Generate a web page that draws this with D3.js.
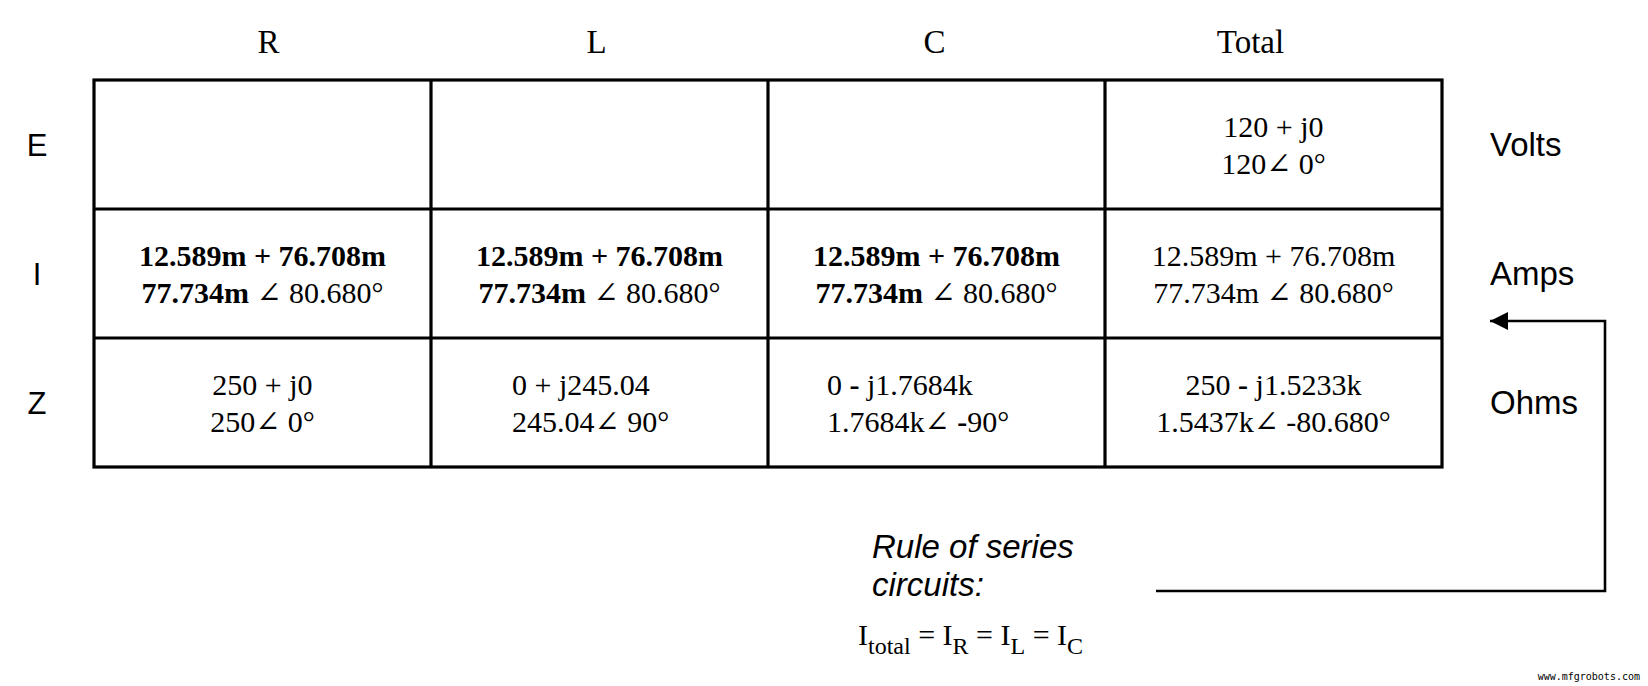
<!DOCTYPE html>
<html>
<head>
<meta charset="utf-8">
<script src="https://cdn.jsdelivr.net/npm/d3@7"></script>
<style>
  body { margin: 0; background: #fff; }
  .serif { font-family: "Liberation Serif", "DejaVu Serif", serif; }
  .sans { font-family: "Liberation Sans", Arial, sans-serif; }
</style>
</head>
<body>
<svg id="chart" width="1648" height="686"></svg>
<script>
// colonnes, lignes et contenu des cellules
const colonnes = ["R", "L", "C", "Total"];
const lignes = ["E", "I", "Z"];
const unites = ["Volts", "Amps", "Ohms"];

// chaque cellule : deux lignes, chaque ligne = liste de [texte, gras]
const cellules = [
  [null, null, null,
   [[["120 + j0", false]], [["120\u2220 0°", false]]]],
  [[[["12.589m + 76.708m", true]], [["77.734m ", true], ["\u2220 80.680°", false]]],
   [[["12.589m + 76.708m", true]], [["77.734m ", true], ["\u2220 80.680°", false]]],
   [[["12.589m + 76.708m", true]], [["77.734m ", true], ["\u2220 80.680°", false]]],
   [[["12.589m + 76.708m", false]], [["77.734m \u2220 80.680°", false]]]],
  [[[["250 + j0", false]], [["250\u2220 0°", false]]],
   [[["0 + j245.04", false]], [["245.04\u2220 90°", false]]],
   [[["0 ", false], ["-", true], [" j1.7684k", false]], [["1.7684k\u2220 ", false], ["-", true], ["90°", false]]],
   [[["250 ", false], ["-", true], [" j1.5233k", false]], [["1.5437k\u2220 -80.680°", false]]]]
];
// décalage à gauche pour certaines cellules (comme dans l'original)
const alignGauche = { "2-1": 81, "2-2": 59 };
// petit décalage des entêtes
const decalEntete = [6, -3, -2, -23];

const svg = d3.select("#chart");
const x = d3.scaleBand().domain(colonnes).range([94, 1442]);
const y = d3.scaleBand().domain(lignes).range([80, 467]);

// grille
const g = svg.append("g").attr("stroke", "#000").attr("stroke-width", 3.2).attr("fill", "none");
g.append("rect").attr("x", x.range()[0]).attr("y", y.range()[0])
  .attr("width", x.range()[1] - x.range()[0]).attr("height", y.range()[1] - y.range()[0]);
colonnes.slice(1).forEach(c => g.append("line").attr("x1", x(c)).attr("x2", x(c))
  .attr("y1", y.range()[0]).attr("y2", y.range()[1]));
lignes.slice(1).forEach(l => g.append("line").attr("y1", y(l)).attr("y2", y(l))
  .attr("x1", x.range()[0]).attr("x2", x.range()[1]));

// entêtes
svg.selectAll(".entete").data(colonnes).enter().append("text")
  .attr("class", "serif").attr("x", (d, i) => x(d) + x.bandwidth() / 2 + decalEntete[i]).attr("y", 53)
  .attr("text-anchor", "middle").attr("font-size", 33).text(d => d);

svg.selectAll(".ligne").data(lignes).enter().append("text")
  .attr("class", "sans").attr("x", 37).attr("y", d => y(d) + y.bandwidth() / 2 + 11)
  .attr("text-anchor", "middle").attr("font-size", 31).text(d => d);

svg.selectAll(".unite").data(unites).enter().append("text")
  .attr("class", "sans").attr("x", 1490).attr("y", (d, i) => y(lignes[i]) + y.bandwidth() / 2 + 11)
  .attr("font-size", 33).text(d => d);

// contenu
cellules.forEach((rang, i) => rang.forEach((cell, j) => {
  if (!cell) return;
  const key = i + "-" + j;
  const cx = alignGauche[key] != null ? x(colonnes[j]) + alignGauche[key] : x(colonnes[j]) + x.bandwidth() / 2;
  const cy = y(lignes[i]) + y.bandwidth() / 2;
  cell.forEach((morceaux, k) => {
    const t = svg.append("text").attr("class", "serif")
      .attr("x", cx).attr("y", cy - 8 + k * 37)
      .attr("text-anchor", alignGauche[key] != null ? "start" : "middle")
      .attr("font-size", 30);
    morceaux.forEach(([txt, gras]) => t.append("tspan")
      .attr("font-weight", gras ? "bold" : "normal").text(txt));
  });
}));

// flèche
svg.append("defs").append("marker").attr("id", "pointe")
  .attr("viewBox", "0 0 10 10").attr("refX", 10).attr("refY", 5)
  .attr("markerWidth", 34).attr("markerHeight", 18).attr("markerUnits", "userSpaceOnUse")
  .attr("orient", "auto")
  .append("path").attr("d", "M0,0L10,5L0,10Z").attr("fill", "#000");
svg.append("path").attr("d", "M1156,591H1605V321H1490")
  .attr("fill", "none").attr("stroke", "#000").attr("stroke-width", 2.6)
  .attr("marker-end", "url(#pointe)");

// règle
svg.append("text").attr("class", "sans").attr("x", 872).attr("y", 558)
  .attr("font-size", 33).attr("font-style", "italic").text("Rule of series");
svg.append("text").attr("class", "sans").attr("x", 872).attr("y", 596)
  .attr("font-size", 33).attr("font-style", "italic").text("circuits:");

const f = svg.append("text").attr("class", "serif").attr("x", 858).attr("y", 645).attr("font-size", 30);
[["I", ""], ["total", "sub"], [" = I", ""], ["R", "sub"], [" = I", ""], ["L", "sub"], [" = I", ""], ["C", "sub"]]
  .forEach(([txt, s]) => f.append("tspan").attr("dy", s ? 9 : (txt === "I" ? 0 : -9))
    .attr("font-size", s ? 24 : 30).text(txt));

svg.append("text").attr("x", 1640).attr("y", 680).attr("text-anchor", "end")
  .attr("font-family", "DejaVu Sans Mono, monospace").attr("font-size", 10).text("www.mfgrobots.com");
</script>
</body>
</html>
